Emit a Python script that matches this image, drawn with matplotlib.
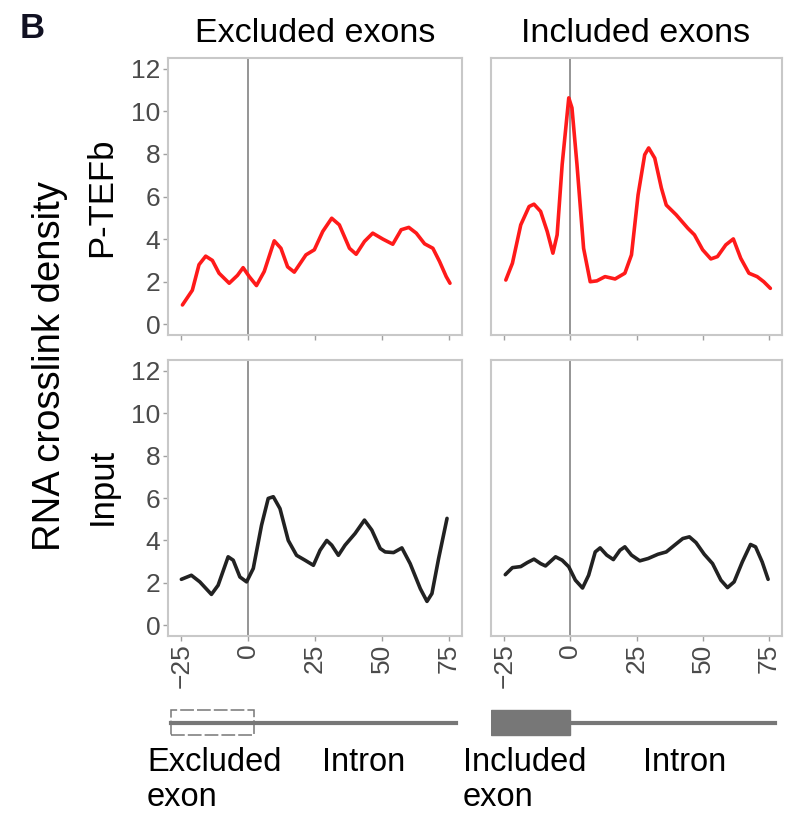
import matplotlib
matplotlib.use('Agg')
import matplotlib.pyplot as plt
from matplotlib.patches import Rectangle

plt.rcParams['font.family'] = ['Liberation Sans', 'DejaVu Sans']

# --- data (position relative to exon end, density) ---
ex_ptefb_x = [-24.6, -20.9, -18.4, -15.9, -13.4, -10.9, -7.1, -4.0, -1.9, 0.4, 3.1, 6.0, 9.75, 12.25,
              14.75, 17.25, 21.6, 24.75, 27.9, 31.25, 34.1, 37.9, 40.4, 43.5, 46.6, 50.4, 54.1, 57.25,
              60.1, 62.9, 66.0, 69.1, 71.6, 74.1, 75.5]
ex_ptefb_y = [0.91, 1.6, 2.8, 3.2, 3.0, 2.4, 1.93, 2.3, 2.66, 2.24, 1.82, 2.48, 3.92, 3.57,
              2.7, 2.45, 3.26, 3.5, 4.36, 4.98, 4.67, 3.57, 3.29, 3.89, 4.28, 4.0, 3.76, 4.44,
              4.55, 4.28, 3.78, 3.57, 2.95, 2.24, 1.93]

in_ptefb_x = [-24.4, -21.9, -18.75, -15.6, -13.75, -11.25, -8.75, -6.6, -5.0, -3.1, -0.6, 0.6, 2.5,
              5.0, 7.5, 10.0, 13.1, 16.9, 20.6, 23.1, 25.6, 28.1, 29.6, 31.9, 34.4, 36.25, 40.0,
              44.4, 46.9, 50.0, 53.1, 55.6, 58.75, 61.6, 64.4, 67.5, 70.6, 73.1, 75.6]
in_ptefb_y = [2.08, 2.87, 4.67, 5.53, 5.64, 5.3, 4.36, 3.34, 4.2, 7.5, 10.63, 10.16, 7.5,
              3.57, 2.0, 2.04, 2.24, 2.13, 2.4, 3.26, 6.08, 7.96, 8.28, 7.8, 6.4, 5.6, 5.14,
              4.51, 4.2, 3.5, 3.07, 3.18, 3.73, 4.01, 3.1, 2.4, 2.24, 2.0, 1.69]

ex_input_x = [-25.0, -21.25, -18.1, -13.75, -11.25, -7.5, -5.6, -3.1, -0.6, 1.9, 5.0, 7.5, 9.4,
              11.9, 15.0, 18.1, 21.25, 24.4, 26.9, 29.4, 31.25, 33.75, 36.25, 40.0, 43.5, 46.25,
              49.4, 51.25, 54.4, 57.5, 60.6, 64.4, 66.9, 68.75, 71.25, 74.4]
ex_input_y = [2.17, 2.36, 2.05, 1.46, 1.89, 3.23, 3.07, 2.28, 2.05, 2.68, 4.72, 5.98, 6.06,
              5.5, 4.0, 3.3, 3.07, 2.83, 3.54, 4.0, 3.78, 3.3, 3.78, 4.33, 4.96, 4.49,
              3.62, 3.46, 3.43, 3.65, 2.91, 1.73, 1.13, 1.5, 3.15, 5.04]

in_input_x = [-24.6, -21.9, -18.75, -16.25, -13.75, -11.25, -9.4, -5.6, -3.1, -0.6, 1.9, 4.6, 6.9,
              9.4, 11.25, 13.75, 16.25, 18.75, 20.6, 23.1, 26.25, 29.4, 33.1, 36.25, 39.4, 42.5,
              45.0, 47.5, 50.6, 53.75, 56.9, 59.4, 61.9, 65.0, 68.1, 70.0, 72.5, 74.75]
in_input_y = [2.39, 2.72, 2.77, 2.96, 3.12, 2.91, 2.8, 3.23, 3.07, 2.76, 2.13, 1.76, 2.36,
              3.46, 3.65, 3.31, 3.1, 3.54, 3.7, 3.31, 3.04, 3.15, 3.35, 3.46, 3.78, 4.09,
              4.17, 3.9, 3.35, 2.91, 2.13, 1.78, 2.05, 2.99, 3.81, 3.7, 2.99, 2.17]

x_ticks = [-25, 0, 25, 50, 75]
y_ticks = [0, 2, 4, 6, 8, 10, 12]
col_titles = ['Excluded exons', 'Included exons']
row_labels = ['P-TEFb', 'Input']

W, H = 785, 818
fig = plt.figure(figsize=(W / 100, H / 100), dpi=100)


def box(l, t, r, b):
    return [l / W, 1 - b / H, (r - l) / W, (b - t) / H]


panels = [
    (box(168, 58, 462, 335), ex_ptefb_x, ex_ptefb_y, '#ff1a1a', True, False),
    (box(491, 58, 782, 335), in_ptefb_x, in_ptefb_y, '#ff1a1a', False, False),
    (box(168, 360, 462, 636), ex_input_x, ex_input_y, '#222222', True, True),
    (box(491, 360, 782, 636), in_input_x, in_input_y, '#222222', False, True),
]

for pos, xs, ys, c, show_y, show_x in panels:
    ax = fig.add_axes(pos)
    ax.axvline(0, color='#8c8c8c', lw=1.3, zorder=1)
    ax.plot(xs, ys, color=c, lw=2.6, solid_joinstyle='round', solid_capstyle='round', zorder=3)
    ax.set_xlim(-30, 80)
    ax.set_ylim(-0.5, 12.5)
    ax.set_xticks(x_ticks)
    ax.set_yticks(y_ticks)
    for s in ax.spines.values():
        s.set_color('#c8c8c8')
        s.set_linewidth(1.5)
    ax.tick_params(length=3.5, width=1, color='#a0a0a0', labelsize=19,
                   labelcolor='#4a4a4a', pad=2)
    if show_y:
        ax.set_yticklabels([str(v) for v in y_ticks])
    else:
        ax.set_yticklabels([])
        ax.tick_params(axis='y', length=0)
    if show_x:
        ax.set_xticklabels([str(v).replace('-', '\u2212') for v in x_ticks], rotation=90)
    else:
        ax.set_xticklabels([])

# column titles
fig.text(315 / W, 1 - 42 / H, col_titles[0], ha='center', va='baseline', fontsize=24.5)
fig.text(636 / W, 1 - 42 / H, col_titles[1], ha='center', va='baseline', fontsize=24.5)

# row labels
fig.text(102 / W, 1 - 197 / H, row_labels[0], rotation=90, ha='center', va='center', fontsize=25)
fig.text(102 / W, 1 - 486 / H, row_labels[1], rotation=90, ha='center', va='center', fontsize=25)
fig.text(50 / W, 1 - 366 / H, 'RNA crosslink density', rotation=90, ha='center', va='center',
         fontsize=27.5)

# panel letter
fig.text(20 / W, 1 - 38 / H, 'B', fontsize=25, fontweight='bold', color='#111122', va='baseline')

# gene schematics under the panels
gray = '#777777'
sch_l = fig.add_axes(box(168, 700, 462, 745))
sch_l.set_xlim(-30, 80)
sch_l.set_ylim(0, 1)
sch_l.axis('off')
sch_l.add_patch(Rectangle((-29, 0.22), 31, 0.56, fill=False, ec=gray, lw=1.1,
                          ls=(0, (9, 2))))
sch_l.plot([-29, 77.8], [0.5, 0.5], color=gray, lw=3)

sch_r = fig.add_axes(box(491, 700, 782, 745))
sch_r.set_xlim(-30, 80)
sch_r.set_ylim(0, 1)
sch_r.axis('off')
sch_r.add_patch(Rectangle((-30, 0.22), 30, 0.56, fc=gray, ec=gray, lw=1))
sch_r.plot([0, 77.5], [0.5, 0.5], color=gray, lw=3)

for xp, label in [(147, 'Excluded\nexon'), (322, 'Intron'), (463, 'Included\nexon'), (643, 'Intron')]:
    fig.text(xp / W, 1 - 747 / H, label, ha='left', va='top', fontsize=23.5, linespacing=1.17)

fig.savefig('out.png', dpi=100)
